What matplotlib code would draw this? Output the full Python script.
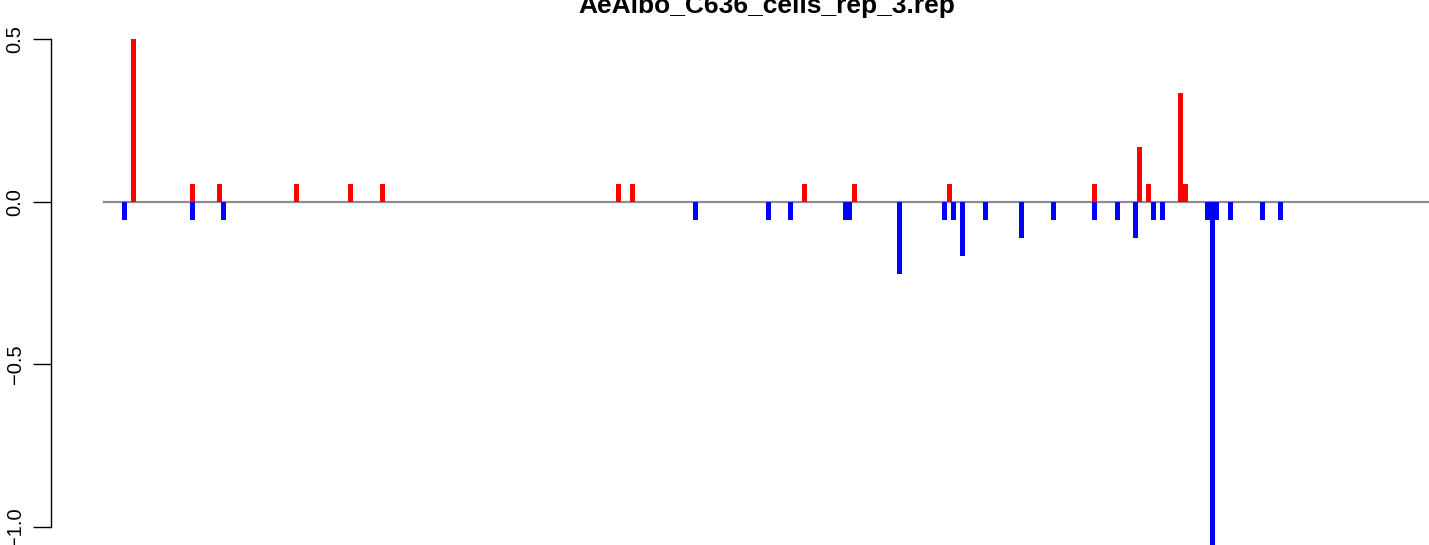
import numpy as np
import matplotlib
matplotlib.use("Agg")
import matplotlib.pyplot as plt

plt.rcParams['font.family'] = ['Liberation Sans', 'DejaVu Sans']

title = "AeAlbo_C636_cells_rep_3.rep"

# positive (red) bars: start position and value
pos_up = [27, 86, 113, 190, 244, 276, 512, 526, 698, 748, 843, 988, 1033, 1042, 1074, 1079]
val_up = [0.5, 0.056, 0.056, 0.056, 0.056, 0.056, 0.056, 0.056, 0.056, 0.056,
          0.056, 0.056, 0.167, 0.056, 0.333, 0.056]

# negative (blue) bars: start position and value
pos_down = [18, 86, 117, 589, 662, 684, 739, 743, 793, 838, 847, 856, 879, 915,
            947, 988, 1011, 1029, 1047, 1056, 1101, 1106, 1110, 1124, 1156, 1174]
val_down = [-0.056, -0.056, -0.056, -0.056, -0.056, -0.056, -0.056, -0.056, -0.222,
            -0.056, -0.056, -0.167, -0.056, -0.111, -0.056, -0.056, -0.056, -0.111,
            -0.056, -0.056, -0.056, -1.056, -0.056, -0.056, -0.056, -0.056]

seq_end = 1340
bar_w = 5

fig = plt.figure(figsize=(14.29, 5.45), dpi=100)
ax = fig.add_axes([51 / 1429, 0, 1378 / 1429, 525 / 545])

# baseline
ax.plot([0, seq_end], [0, 0], color='#8c8c8c', lw=1.6, zorder=1)

ax.bar(pos_up, val_up, width=bar_w, align='edge', color='#ff0000', lw=0, zorder=2)
ax.bar(pos_down, val_down, width=bar_w, align='edge', color='#0000ff', lw=0, zorder=2)

ax.set_xlim(-53, 1325)
ax.set_ylim(-1.056, 0.559)

for s in ['top', 'right', 'bottom']:
    ax.spines[s].set_visible(False)
ax.spines['left'].set_bounds(-1.0, 0.5)
ax.spines['left'].set_linewidth(1.0)
ax.set_xticks([])
ax.set_yticks([-1.0, -0.5, 0.0, 0.5])
ax.set_yticklabels(['\u22121.0', '\u22120.5', '0.0', '0.5'], rotation=90, va='center')
ax.tick_params(axis='y', length=13, width=1.0, pad=6, labelsize=14.5)

fig.text(767 / 1429, 1 - 13 / 545, title, ha='center', va='baseline',
         fontsize=19, fontweight='bold')

fig.savefig('out.png', dpi=100)
